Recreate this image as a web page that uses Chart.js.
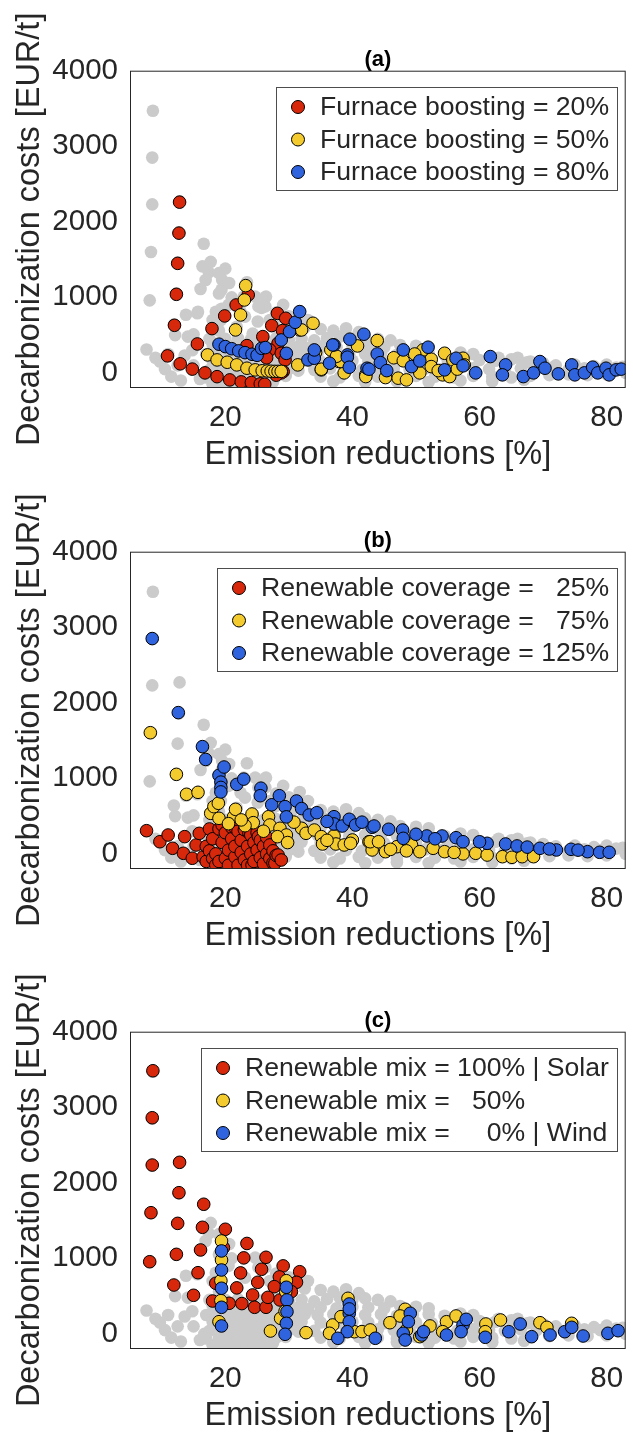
<!DOCTYPE html>
<html>
<head>
<meta charset="utf-8">
<script src="https://cdn.jsdelivr.net/npm/chart.js@4.4.1/dist/chart.umd.min.js"></script>
<style>
  html, body { margin: 0; padding: 0; background: #fff; overflow: hidden; }
  canvas { position: absolute; left: 0; }
</style>
</head>
<body>
<canvas id="panelA" width="633" height="480" style="top:0px"></canvas>
<canvas id="panelB" width="633" height="480" style="top:481px"></canvas>
<canvas id="panelC" width="633" height="480" style="top:961px"></canvas>
<script>
// axis ticks
const X_TICKS = [20, 40, 60, 80];
const Y_TICKS = [0, 1000, 2000, 3000, 4000];

// every scenario, drawn grey underneath each panel: [emission reduction %, cost EUR/t]
const GRAY_ALL = [
  [8.6,3470],[8.5,2850],[8.5,2230],[8.3,1600],[8.1,960],[7.6,310],
  [12.8,2270],[12.7,1860],[12.5,1460],[12.3,1050],[11.9,640],
  [16.6,1710],[16.4,1410],[16.1,1110],[15.7,810],[15.0,510],
  [17.7,1470],[17.4,1330],[16.9,1230],[19.0,1320],[20.0,1380],[19.5,1230],[19.4,1100],
  [19.0,1050],[18.5,810],[18.0,700],[19.3,700],[19.4,850],[20.6,1190],[21.0,1000],[20.5,900],
  [23.4,1200],[22.9,1010],[22.4,810],[21.8,610],[26.4,1010],[25.7,860],[25.1,680],[24.3,520],
  [26.3,1000],[24.7,1010],[26.3,880],[25.2,880],[23.1,745],[29.1,900],[28.5,750],[27.7,625],
  [31.7,820],[31.2,680],[30.4,560],[28.0,800],[30.0,750],[27.0,700],[33.0,700],[32.5,600],
  [9.0,200],[9.7,150],[10.5,50],[11.0,250],[11.5,-50],[12.1,500],[12.5,100],[13.0,-100],
  [13.6,230],[13.8,770],[14.1,480],[14.8,300],[15.6,790],[15.0,100],[16.0,-80],[16.7,0],
  [17.0,250],[17.5,450],[18.0,-150],[18.5,100],[18.0,380],[19.0,560],[19.0,160],
  [18.5,-150],[20.0,-140],[21.5,-150],[23.0,-140],[24.5,-150],[26.0,-150],[27.5,-120],
  [17.0,-60],[19.0,-50],[20.5,-40],[22.0,-60],[23.5,-50],[25.0,-40],[26.5,-60],[28.0,-50],[29.5,-40],
  [17.5,40],[19.5,60],[21.0,50],[22.5,40],[24.0,60],[25.5,50],[27.0,40],[28.5,60],[30.0,50],[31.5,30],
  [18.0,160],[20.0,150],[21.5,140],[23.0,160],[24.5,150],[26.0,140],[27.5,160],[29.0,150],[30.5,140],[32.0,160],
  [18.5,260],[20.5,240],[22.0,250],[23.5,260],[25.0,240],[26.5,250],[28.0,260],[29.5,240],[31.0,250],[32.5,260],
  [19.5,340],[21.0,360],[22.5,350],[24.0,340],[25.5,360],[27.0,350],[28.5,340],[30.0,360],[31.5,350],[33.0,330],
  [20.0,450],[22.0,460],[24.0,440],[26.0,450],[28.0,460],[30.0,440],[32.0,450],[34.0,430],
  [35.0,580],[37.0,560],[39.0,590],[41.0,540],
  [36.0,460],[38.0,480],[40.0,450],[42.0,470],[44.0,450],[46.0,430],
  [35.0,350],[37.5,340],[40.0,360],[42.5,350],[45.0,340],[47.5,370],[50.0,360],[52.0,340],
  [34.5,250],[37.0,260],[39.5,240],[42.0,250],[44.5,260],[47.0,240],[49.5,250],[52.0,260],[54.5,240],[57.0,270],[59.0,250],
  [35.0,150],[37.5,140],[40.0,160],[42.5,150],[45.0,140],[47.5,160],[50.0,150],[52.5,140],[55.0,160],[57.5,150],
  [60.0,170],[62.5,160],[65.0,180],[67.5,140],
  [34.0,40],[36.5,60],[39.0,50],[41.5,40],[44.0,60],[46.5,50],[49.0,40],[51.5,60],[54.0,50],[56.5,40],
  [59.0,60],[61.5,50],[64.0,40],[66.5,60],[69.0,50],[71.5,70],[74.0,40],[76.5,60],[79.0,50],[81.5,70],
  [35.0,-50],[38.0,-60],[41.0,-40],[44.0,-50],[47.0,-60],[50.0,-40],[53.0,-50],[56.0,-60],[59.0,-40],
  [62.0,-50],[65.0,-60],[68.0,-40],[71.0,-30],[74.0,-20],[77.0,-30],[80.0,-20],[83.0,0],
  [37.0,-110],[42.0,-120],[47.0,-110],[52.0,-120],[57.0,-100],[62.0,-110],[67.0,-90],
  [70.0,130],[72.0,100],[75.0,110],[78.0,90],[80.0,110],[82.5,80],[63.0,200],[66.0,200],[68.0,150]
];

// (a) furnace boosting
const LABELS_A = ['Furnace boosting = 20%', 'Furnace boosting = 50%', 'Furnace boosting = 80%'];
const BOOST_20 = [
  [12.8,2260],[12.7,1850],[12.5,1450],[12.3,1040],[12.0,630],[10.9,225],[12.9,120],[14.8,50],
  [16.8,0],[18.7,-50],[20.7,-93],[22.5,-119],[24.1,-128],[25.5,-145],[26.2,-150],
  [15.6,383],[17.9,586],[19.9,754],[21.7,899],[23.6,1032],[23.4,361],[25.9,480],[27.3,626],
  [28.2,788],[29.5,723],[29.0,560],[28.3,392],[27.0,304],[28.8,259],[29.4,172],[29.1,17],
  [25.7,260],[28.8,0],[28.0,-30],[26.5,200]
];
const BOOST_50 = [
  [23.2,1155],[23.0,965],[22.4,767],[21.6,569],[17.2,238],[18.7,172],[20.3,141],[21.8,106],
  [23.4,62],[24.7,40],[25.8,28],[26.6,25],[27.2,22],[27.8,20],[28.3,20],[28.8,20],
  [31.7,569],[33.8,657],[31.4,106],[35.1,40],[38.7,0],[42.1,-26],[37.9,150],
  [32.0,569],[43.9,428],[40.8,357],[36.6,304],[38.2,150],[35.1,49],[42.1,-49],[45.2,-62],
  [47.2,-70],[48.5,-93],[50.6,0],[52.4,181],[52.4,83],[54.2,-26],[54.5,260],[55.8,172],
  [57.4,194],[57.6,106],[55.3,-49],[51.1,304],[34.2,270],[37.5,220],[46.5,200],[48.0,160],
  [49.8,250],[53.5,30],[56.5,50]
];
const BOOST_80 = [
  [19.0,380],[20.0,348],[21.0,320],[22.1,291],[23.1,268],[24.2,247],[25.0,233],[25.7,325],
  [26.3,335],[28.8,436],[30.1,546],[31.0,670],[31.7,811],[29.6,259],[33.0,172],[34.0,194],
  [37.1,370],[39.2,238],[42.3,62],
  [41.8,512],[39.6,446],[36.9,370],[34.0,304],[36.4,128],[39.2,208],[39.5,75],[42.6,49],
  [43.9,251],[44.4,136],[45.4,30],[48.0,304],[49.3,83],[50.6,159],[51.9,340],[54.5,40],
  [56.3,194],[57.4,93],[59.4,0],[61.7,216],[64.1,106],[63.6,-26],[66.9,-49],[68.5,0],
  [69.5,150],[70.3,62],[72.4,-13],[74.5,106],[75.0,-26],[76.5,0],[77.8,75],[78.6,0],
  [79.9,62],[80.4,-26],[81.5,40],[82.3,50]
];

// (b) renewable coverage
const LABELS_B = ['Renewable coverage =   25%', 'Renewable coverage =   75%', 'Renewable coverage = 125%'];
const COVER_25 = [
  [7.6,307],[9.7,161],[11.0,250],[11.7,74],[13.6,228],[13.4,8],[14.8,-58],[15.4,118],[15.9,272],
  [16.5,-40],[17.0,100],[17.0,-100],[17.5,330],[17.5,40],[18.0,200],[18.0,-60],[18.5,0],[18.5,-147],
  [19.0,330],[19.0,-100],[19.5,382],[19.5,150],[20.0,-60],[20.0,280],[20.5,50],[20.5,-150],
  [21.0,350],[21.0,200],[21.5,-40],[21.5,100],[21.6,339],[22.0,300],[22.0,-150],[22.5,180],
  [22.5,20],[23.0,320],[23.0,-80],[23.5,100],[23.5,-150],[23.7,281],[24.0,250],[24.0,0],
  [24.2,-147],[24.5,150],[24.5,-100],[25.0,280],[25.0,50],[25.2,228],[25.5,-50],[25.5,180],
  [26.0,100],[26.0,-130],[26.5,220],[26.5,0],[27.0,-60],[27.0,118],[27.5,40],[27.5,-120],
  [27.8,-124],[28.0,-20],[28.3,-15],[28.8,-81]
];
const COVER_75 = [
  [8.2,1604],[12.3,1053],[13.9,789],[15.7,815],[17.7,537],[18.2,625],[18.9,670],[19.0,471],
  [21.3,492],[21.6,590],[24.2,528],[24.4,413],[23.1,373],[26.8,492],[27.0,382],[28.6,339],
  [29.6,250],[28.2,228],[32.0,339],[32.7,273],[34.0,316],[35.1,228],[35.3,131],[37.1,237],
  [37.4,131],[38.7,118],[40.0,184],[42.6,161],[43.1,52],[39.7,140],[42.8,161],[44.1,161],
  [45.2,29],[47.0,95],[49.3,118],[50.6,29],[52.7,74],[54.5,29],[57.4,0],[59.4,8],[61.2,-15],
  [63.6,-37],[65.1,-45],[66.7,-37],[68.5,-37],[29.8,150],[26.0,300],[20.5,400],[22.5,450],
  [30.8,420],[36.0,180],[46.0,60],[48.5,40],[56.0,20]
];
const COVER_125 = [
  [8.5,2850],[12.6,1870],[16.4,1420],[16.9,1250],[19.0,1040],[19.8,1150],[19.3,950],[19.3,880],
  [19.3,820],[21.8,920],[22.9,990],[25.6,870],[25.5,770],[27.3,650],[28.5,770],[29.4,625],
  [29.6,490],[31.2,700],[32.0,600],[33.2,515],[34.4,545],[37.1,492],[37.1,396],[38.4,369],
  [39.5,458],[40.5,382],[43.1,352],[43.4,369],[45.7,326],[47.9,316],[48.0,206],[51.7,237],
  [54.1,237],[56.3,214],[57.4,161],[61.2,140],[64.1,131],[65.9,105],[69.5,74],[72.1,52],
  [74.4,61],[77.0,29],[78.9,21],[80.4,21],[36.0,430],[41.5,420],[50.0,260],[53.0,200],
  [60.0,160],[67.5,90],[71.0,65],[75.5,50]
];

// (c) renewable mix
const LABELS_C = ['Renewable mix = 100% | Solar', 'Renewable mix =   50%', 'Renewable mix =     0% | Wind'];
const MIX_SOLAR = [
  [8.6,3483],[8.5,2861],[8.5,2235],[8.3,1604],[8.1,955],[12.8,2271],[12.7,1869],[12.5,1463],
  [12.3,1053],[11.9,647],[16.6,1716],[16.4,1411],[16.1,1111],[15.7,810],[15.0,511],[20.0,1385],
  [19.7,1142],[18.5,670],[18.0,435],[20.6,405],[23.4,1197],[22.9,1006],[22.4,807],[21.8,609],
  [22.6,401],[26.4,1014],[25.7,855],[25.1,683],[24.3,515],[24.6,352],[26.4,352],[29.1,900],
  [28.5,754],[27.7,625],[26.7,484],[28.6,449],[31.7,823],[31.2,683],[30.4,559]
];
const MIX_HALF = [
  [19.4,1230],[19.4,978],[19.3,704],[19.3,440],[19.0,161],[29.6,704],[28.7,206],[27.1,38],
  [32.7,16],[36.9,118],[36.4,8],[39.3,471],[38.2,228],[40.3,29],[41.5,30],[42.8,52],[48.3,326],
  [47.5,237],[45.9,148],[48.5,52],[52.2,105],[54.8,161],[56.3,237],[61.0,131],[60.9,29],
  [63.3,184],[69.5,148],[70.6,87],[74.5,140],[54.2,29],[50.6,-37],[29.5,560],[29.4,300]
];
const MIX_WIND = [
  [19.4,1098],[19.4,846],[19.4,604],[19.4,352],[19.4,105],[29.6,617],[29.7,449],[29.7,294],
  [29.6,140],[29.4,-5],[39.5,396],[39.5,272],[39.5,161],[39.2,29],[37.7,-58],[43.6,-58],
  [49.1,273],[48.8,161],[48.0,8],[48.3,-81],[50.9,-15],[51.2,29],[54.8,-15],[57.4,118],
  [57.9,193],[57.1,29],[60.9,-45],[64.6,29],[66.4,131],[68.2,-37],[71.1,-15],[73.4,29],
  [74.5,87],[76.3,-28],[80.2,8],[81.8,42],[39.5,330]
];

const FONT = '"Liberation Sans", Arial, Helvetica, sans-serif';
const INK = '#262626';
const RED = '#d8280b', YELLOW = '#f4cb2f', BLUE = '#3064df', GREY = '#cbcbcb';

// closed axes box like MATLAB's "box on"
const axesBox = {
  id: 'axesBox',
  afterDatasetsDraw(chart) {
    const { ctx, chartArea: a } = chart;
    ctx.save();
    ctx.strokeStyle = INK;
    ctx.lineWidth = 1;
    ctx.strokeRect(a.left + 0.5, a.top + 0.5, a.right - a.left - 1, a.bottom - a.top - 1);
    ctx.restore();
  }
};

// framed legend in the upper right corner of the axes
const boxLegend = {
  id: 'boxLegend',
  afterDraw(chart, args, opts) {
    const { ctx, chartArea: a } = chart;
    const items = chart.data.datasets.filter(d => d.label);
    ctx.save();
    ctx.font = opts.size + 'px ' + FONT;
    const textW = Math.max(...items.map(d => ctx.measureText(d.label).width));
    const w = Math.round(textW + 52), h = 103;
    const right = Math.round(a.right - 9), top = Math.round(a.top + 16);
    const left = right - w;
    ctx.fillStyle = '#fff';
    ctx.fillRect(left, top, w, h);
    ctx.strokeStyle = '#4d4d4d';
    ctx.lineWidth = 1;
    ctx.strokeRect(left + 0.5, top + 0.5, w, h);
    items.forEach((d, i) => {
      const y = top + 20 + i * 32.5;
      ctx.beginPath();
      ctx.arc(left + 22, y, 6.5, 0, Math.PI * 2);
      ctx.fillStyle = d.backgroundColor;
      ctx.fill();
      ctx.strokeStyle = '#000';
      ctx.stroke();
      ctx.fillStyle = INK;
      ctx.textAlign = 'left';
      ctx.textBaseline = 'middle';
      ctx.fillText(d.label, left + 44, y + 1);
    });
    ctx.restore();
  }
};

function toPoints(arr) {
  return arr.map(p => ({ x: p[0], y: p[1] }));
}

function series(label, arr, color, order) {
  return {
    label: label,
    data: toPoints(arr),
    backgroundColor: color,
    borderColor: '#000',
    borderWidth: 1,
    pointRadius: 6.3,
    pointStyle: 'circle',
    order: order
  };
}

function drawPanel(id, letter, labels, groups) {
  new Chart(document.getElementById(id), {
    type: 'scatter',
    data: {
      datasets: [
        series(labels[0], groups[0], RED, 3),
        series(labels[1], groups[1], YELLOW, 2),
        series(labels[2], groups[2], BLUE, 1),
        {
          data: toPoints(GRAY_ALL),
          backgroundColor: GREY,
          borderWidth: 0,
          pointRadius: 6.3,
          order: 4
        }
      ]
    },
    options: {
      responsive: false,
      animation: false,
      events: [],
      layout: { padding: { right: 1 } },
      scales: {
        x: {
          type: 'linear',
          min: 5,
          max: 83,
          afterBuildTicks: s => { s.ticks = X_TICKS.map(v => ({ value: v })); },
          afterFit: s => { s.height = 92; s.paddingLeft = 0; s.paddingRight = 0; },
          grid: { display: false, drawTicks: false },
          border: { display: false },
          ticks: { padding: 12, color: INK, font: { family: FONT, size: 29.5 } },
          title: {
            display: true,
            text: 'Emission reductions [%]',
            color: INK,
            padding: { bottom: 5.5 },
            font: { family: FONT, size: 32.5 }
          }
        },
        y: {
          min: -200,
          max: 4000,
          afterBuildTicks: s => { s.ticks = Y_TICKS.map(v => ({ value: v })); },
          afterFit: s => { s.width = 130; },
          grid: { display: false, drawTicks: false },
          border: { display: false },
          ticks: {
            padding: 12,
            color: INK,
            font: { family: FONT, size: 29.5 },
            callback: v => String(v)
          },
          title: {
            display: true,
            text: 'Decarbonization costs [EUR/t]',
            color: INK,
            padding: { top: 11 },
            font: { family: FONT, size: 32.5 }
          }
        }
      },
      plugins: {
        legend: { display: false },
        tooltip: { enabled: false },
        title: {
          display: true,
          text: letter,
          fullSize: false,
          color: '#000',
          font: { family: FONT, size: 22, weight: 'bold', lineHeight: 1 },
          padding: { top: 48.7, bottom: 0 }
        },
        boxLegend: { size: 26.6 }
      }
    },
    plugins: [axesBox, boxLegend]
  });
}

drawPanel('panelA', '(a)', LABELS_A, [BOOST_20, BOOST_50, BOOST_80]);
drawPanel('panelB', '(b)', LABELS_B, [COVER_25, COVER_75, COVER_125]);
drawPanel('panelC', '(c)', LABELS_C, [MIX_SOLAR, MIX_HALF, MIX_WIND]);
</script>
</body>
</html>
